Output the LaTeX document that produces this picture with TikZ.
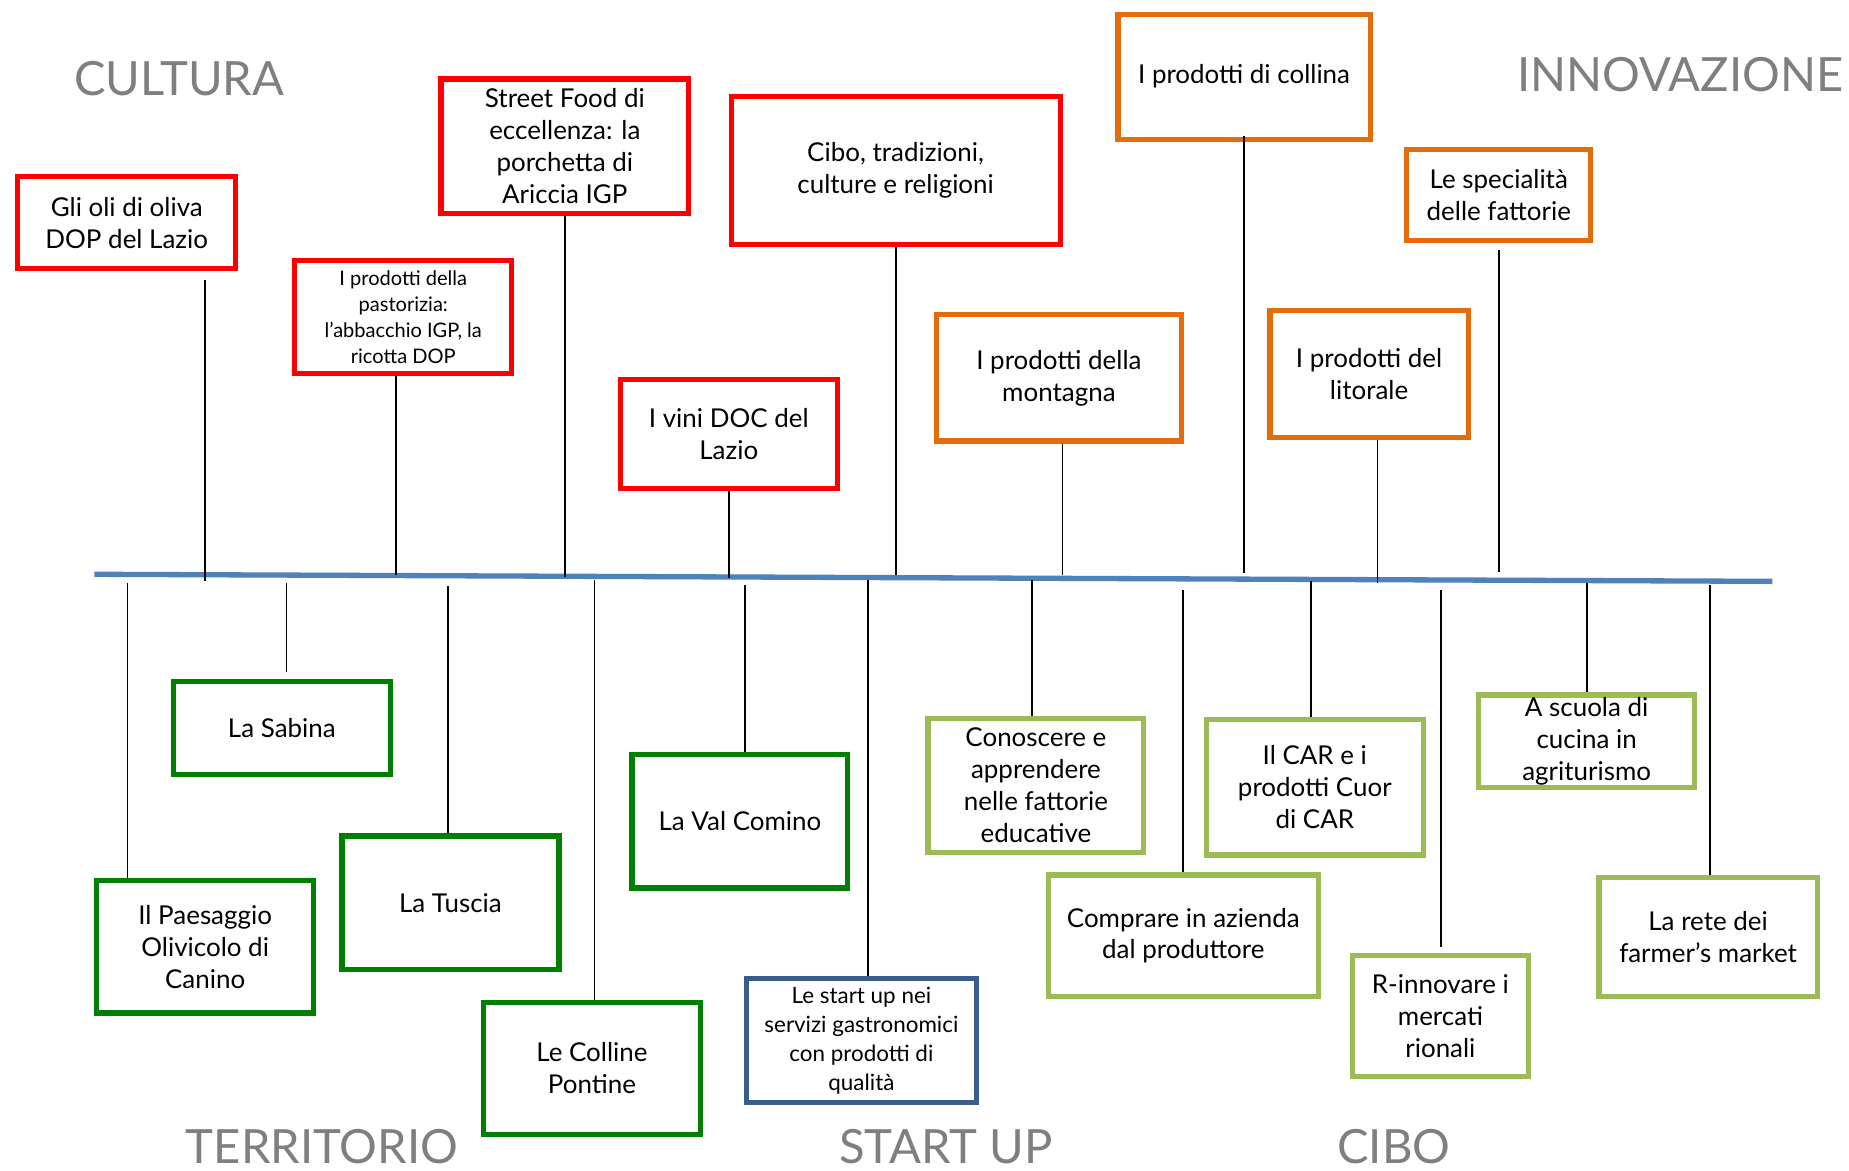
\documentclass[tikz,border=0pt]{standalone}
\usepackage{fontspec}
\setmainfont{Lato}
\begin{document}
\definecolor{cred}{HTML}{FF0000}
\definecolor{corange}{HTML}{E46C0A}
\definecolor{cgreen}{HTML}{008000}
\definecolor{clight}{HTML}{9BBB59}
\definecolor{cblue}{HTML}{385D8A}
\definecolor{caxis}{HTML}{4F81BD}
\definecolor{cgray}{HTML}{7F7F7F}
\begin{tikzpicture}[x=1pt,y=-1pt,
  box/.style={draw, line width=4.4pt, align=center, inner sep=2pt,
    font=\fontsize{22}{27}\selectfont},
  smallbox/.style={box, font=\fontsize{17}{22}\selectfont},
  redbox/.style={box, draw=cred},
  orangebox/.style={box, draw=corange},
  greenbox/.style={box, draw=cgreen},
  lightbox/.style={box, draw=clight},
  bluebox/.style={box, draw=cblue, font=\fontsize{19}{24.5}\selectfont},
  conn/.style={draw=black, line width=1.4pt},
  axis/.style={draw=caxis, line width=4.5pt},
  category/.style={text=cgray, font=\fontsize{40}{46}\selectfont, anchor=base, inner sep=0pt},
  bw/.style={minimum width=#1pt},
  bh/.style={minimum height=#1pt}]
\useasboundingbox (0,0) rectangle (1568,993);
\fill[white] (0,0) rectangle (1568,993);

% category headings
\node[category] (hcult) at (152,81) {CULTURA};
\node[category] (hinno) at (1425,78) {INNOVAZIONE};
\node[category] (hterr) at (273,987) {TERRITORIO};
\node[category] (hstart) at (802,987) {START UP};
\node[category] (hcibo) at (1182,987) {CIBO};

% main axis
\coordinate (axL) at (80,487);
\coordinate (axR) at (1503,493);
\draw[axis] (axL) -- (axR);

% culture (red)
\node[redbox, bw=185, bh=78] (oli) at (107.5,189) {Gli oli di oliva\\DOP del Lazio};
\node[redbox, smallbox, draw=cred, bw=184, bh=96] (past) at (342,269) {I prodotti della\\pastorizia:\\l’abbacchio IGP, la\\ricotta DOP};
\node[redbox, bw=210, bh=114] (street) at (479,124) {Street Food di\\eccellenza: la\\porchetta di\\Ariccia IGP};
\node[redbox, bw=279, bh=125] (cibo) at (759.5,144.5) {Cibo, tradizioni,\\culture e religioni};
\node[redbox, bw=184, bh=92] (vini) at (618,368) {I vini DOC del\\Lazio};

% innovation (orange)
\node[orangebox, bw=214, bh=106] (collina) at (1055,65) {I prodotti di collina};
\node[orangebox, bw=208, bh=107] (montagna) at (898,320.5) {I prodotti della\\montagna};
\node[orangebox, bw=168, bh=108] (litorale) at (1161,317) {I prodotti del\\litorale};
\node[orangebox, bw=156, bh=77] (special) at (1271,165.5) {Le specialità\\delle fattorie};

% territory (green)
\node[greenbox, bw=184, bh=79] (sabina) at (239,617.5) {La Sabina};
\node[greenbox, bw=184, bh=112] (canino) at (174,803) {Il Paesaggio\\Olivicolo di\\Canino};
\node[greenbox, bw=184, bh=113] (tuscia) at (382,765.5) {La Tuscia};
\node[greenbox, bw=184, bh=112] (pontine) at (502,906) {Le Colline\\Pontine};
\node[greenbox, bw=183, bh=113] (comino) at (627.5,696.5) {La Val Comino};

% start up (blue)
\node[bluebox, bw=195, bh=105] (startup) at (730.5,882.5) {Le start up nei\\servizi gastronomici\\con prodotti di\\qualità};

% food (light green)
\node[lightbox, bw=183, bh=114] (conoscere) at (878.5,666) {Conoscere e\\apprendere\\nelle fattorie\\educative};
\node[lightbox, bw=184, bh=115] (car) at (1115,667.5) {Il CAR e i\\prodotti Cuor\\di CAR};
\node[lightbox, bw=229, bh=103] (comprare) at (1003.5,793.5) {Comprare in azienda\\dal produttore};
\node[lightbox, bw=149, bh=103] (rinnovare) at (1221.5,861.5) {R-innovare i\\mercati\\rionali};
\node[lightbox, bw=183, bh=77] (scuola) at (1345.5,628.5) {A scuola di\\cucina in\\agriturismo};
\node[lightbox, bw=185, bh=101] (farmer) at (1448.5,794.5) {La rete dei\\farmer’s market};

% attachment points on the axis
\coordinate (aoli) at (174,493);
\coordinate (apast) at (336,488);
\coordinate (astreet) at (479,489);
\coordinate (acibo) at (760,488);
\coordinate (avini) at (618,490);
\coordinate (acollina) at (1055,486);
\coordinate (amontagna) at (901,488);
\coordinate (alitorale) at (1168,494);
\coordinate (aspecial) at (1271,485);
\coordinate (asabina) at (243,494);
\coordinate (acanino) at (108,494);
\coordinate (atuscia) at (380,497);
\coordinate (apontine) at (504,492);
\coordinate (acomino) at (632,496);
\coordinate (astartup) at (736,492);
\coordinate (aconoscere) at (875,492);
\coordinate (acar) at (1112,493);
\coordinate (acomprare) at (1003,500);
\coordinate (arinnovare) at (1222,500);
\coordinate (ascuola) at (1346,494);
\coordinate (afarmer) at (1450,496);

% connectors above the axis
\draw[conn] ([yshift=-7pt]oli.south -| aoli) -- (aoli);
\draw[conn] (past.south -| apast) -- (apast);
\draw[conn] (street.south -| astreet) -- (astreet);
\draw[conn] (cibo.south -| acibo) -- (acibo);
\draw[conn] (vini.south -| avini) -- (avini);
\draw[conn] ([yshift=5pt]collina.south -| acollina) -- (acollina);
\draw[conn] (montagna.south -| amontagna) -- (amontagna);
\draw[conn] (litorale.south -| alitorale) -- (alitorale);
\draw[conn] ([yshift=-6pt]special.south -| aspecial) -- (aspecial);

% connectors below the axis
\draw[conn] (asabina) -- ([yshift=6pt]sabina.north -| asabina);
\draw[conn] (acanino) -- (canino.north -| acanino);
\draw[conn] (atuscia) -- (tuscia.north -| atuscia);
\draw[conn] (apontine) -- (pontine.north -| apontine);
\draw[conn] (acomino) -- (comino.north -| acomino);
\draw[conn] (astartup) -- (startup.north -| astartup);
\draw[conn] (aconoscere) -- (conoscere.north -| aconoscere);
\draw[conn] (acar) -- (car.north -| acar);
\draw[conn] (acomprare) -- (comprare.north -| acomprare);
\draw[conn] (arinnovare) -- ([yshift=5pt]rinnovare.north -| arinnovare);
\draw[conn] (ascuola) -- (scuola.north -| ascuola);
\draw[conn] (afarmer) -- (farmer.north -| afarmer);
\end{tikzpicture}
\end{document}
